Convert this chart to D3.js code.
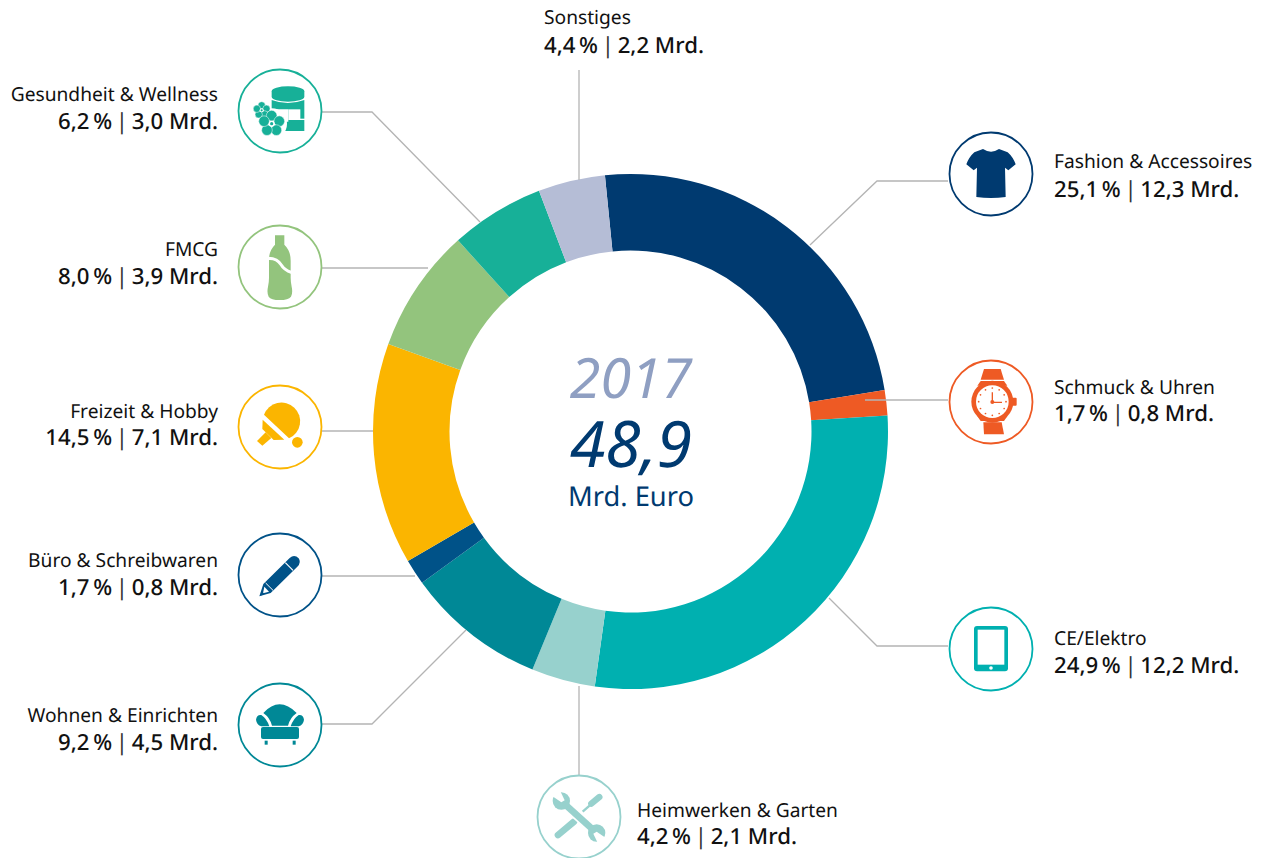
<!DOCTYPE html>
<html><head><meta charset="utf-8">
<script src="https://cdnjs.cloudflare.com/ajax/libs/d3/7.8.5/d3.min.js"></script>
<style>
html,body{margin:0;padding:0;background:#fff;overflow:hidden}
svg{display:block}
text{font-family:"Noto Sans",sans-serif;fill:#111;text-rendering:geometricPrecision}
</style></head><body>
<div id="chart"></div>
<script>
// ---- data ----
const categories = ["Fashion & Accessoires","Schmuck & Uhren","CE/Elektro","Heimwerken & Garten","Wohnen & Einrichten","Büro & Schreibwaren","Freizeit & Hobby","FMCG","Gesundheit & Wellness","Sonstiges"];
const shareLabels = ["25,1","1,7","24,9","4,2","9,2","1,7","14,5","8,0","6,2","4,4"];
const billionLabels = ["12,3","0,8","12,2","2,1","4,5","0,8","7,1","3,9","3,0","2,2"];
// slice sizes as actually drawn in the picture (read from the ring, in % of the circle)
const drawnShares = [24.0,1.6,28.2,4.0,8.8,1.6,13.9,7.8,5.9,4.2];
const colors = ["#003a70","#ee5a24","#00b0b0","#97d1cd","#008896","#005288","#fbb500","#93c47d","#17b098","#b5bdd6"];
const yearLabel = "2017", totalLabel = "48,9", unitLabel = "Mrd. Euro";

// ---- layout ----
const W=1263,H=858,cx=630.5,cy=431.5,R=257.5,r=181;
const startAngle=-5.7*Math.PI/180;
const labelPos=[[1054,168,197,"start"],[1054,394,421,"start"],[1054,645,673,"start"],[637,817,844,"start"],[218,722,750,"end"],[218,567,595,"end"],[218,418,445,"end"],[218,256,284,"end"],[218,101,129,"end"],[544,24,53,"start"]];
const iconPos=[[991,174],[991,402],[991,649],[579,817],[280,725],[280,575],[280,427],[280,267],[280,111],null];
const leaders=[[[948,181],[877,181],[810,245]],[[948,400],[865,400]],[[948,646],[877,646],[829,598]],[[579,775],[579,686]],[[322,724],[372,724],[466,630]],[[322,576],[415,576]],[[322,431],[373,431]],[[322,268],[428,268]],[[322,112],[372,112],[480,222]],[[579,70],[579,180]]];

const svg=d3.select("#chart").append("svg").attr("width",W).attr("height",H);

// ring
const pie=d3.pie().sort(null).value(d=>d).startAngle(startAngle).endAngle(startAngle+2*Math.PI);
const arc=d3.arc().innerRadius(r).outerRadius(R);
svg.append("g").attr("transform",`translate(${cx},${cy})`)
  .selectAll("path").data(pie(drawnShares)).join("path")
  .attr("d",arc).attr("fill",(d,i)=>colors[i]);

// leaders
const line=d3.line();
svg.append("g").selectAll("path").data(leaders).join("path")
  .attr("d",d=>line(d)).attr("fill","none").attr("stroke","#b4b4b4").attr("stroke-width",1.3);

// icon circles
iconPos.forEach((p,i)=>{
  if(!p)return;
  svg.append("circle").attr("cx",p[0]).attr("cy",p[1]).attr("r",41.5).attr("fill","#fff").attr("stroke",colors[i]).attr("stroke-width",1.8);
});

// icons, drawn in a 3x local grid around each circle centre
function icon(i,zx,zy){
  return svg.append("g").attr("transform",`translate(${iconPos[i][0]},${iconPos[i][1]}) scale(${1/3}) translate(${-zx},${-zy})`).attr("fill",colors[i]);
}
// t-shirt
icon(0,184,163).append("path").attr("d","M160,88 Q184,104 208,88 L234,98 Q250,112 258,134 L236,152 L226,144 L228,232 Q184,238 140,232 L142,144 L132,152 L110,134 Q118,112 134,98Z");
// watch
{const g=icon(1,93,111);
 g.append("path").attr("d","M72,12 H122 L132,44 H62Z");
 g.append("path").attr("d","M70,172 H125 L132,208 H72Z");
 g.append("path").attr("d","M62,48 H132 L142,62 H52Z");
 g.append("path").attr("d","M62,168 H132 L142,154 H52Z");
 g.append("rect").attr("x",157).attr("y",98).attr("width",13).attr("height",24).attr("rx",3);
 g.append("circle").attr("cx",97).attr("cy",110).attr("r",63);
 g.append("circle").attr("cx",97).attr("cy",110).attr("r",49).attr("fill","#fff");
 d3.range(12).forEach(k=>{const a=k*Math.PI/6;g.append("circle").attr("cx",97+41*Math.cos(a)).attr("cy",110+41*Math.sin(a)).attr("r",2.6);});
 g.append("path").attr("d","M97,82 V112 H126").attr("fill","none").attr("stroke",colors[1]).attr("stroke-width",4);
 g.append("circle").attr("cx",97).attr("cy",111).attr("r",6);
}
// tablet
{const g=icon(2,184,177);
 g.append("rect").attr("x",133).attr("y",108).attr("width",102).attr("height",136).attr("rx",9);
 g.append("rect").attr("x",144).attr("y",119).attr("width",80).attr("height",105).attr("fill","#fff");
 g.append("circle").attr("cx",184).attr("cy",234).attr("r",5.5).attr("fill","#fff");
}
// tools
{const g=icon(3,87,96),c=colors[3];
 const seg=(d,w,cap)=>g.append("path").attr("d",d).attr("stroke",c).attr("stroke-width",w).attr("stroke-linecap",cap||"butt").attr("fill","none");
 seg("M24,150 L72,110",20,"round");
 seg("M98,80 L130,52",7);
 seg("M124,56 L148,36",19,"round");
 g.append("path").attr("d","M38,52 L136,140").attr("stroke","#fff").attr("stroke-width",30).attr("fill","none");
 seg("M38,52 L136,140",20);
 g.append("circle").attr("cx",34).attr("cy",48).attr("r",26);
 g.append("circle").attr("cx",140).attr("cy",144).attr("r",26);
 g.append("path").attr("d","M2,30 L24,4 L44,46 L34,52 Z").attr("fill","#fff");
 g.append("path").attr("d","M172,162 L150,188 L130,146 L140,140 Z").attr("fill","#fff");
}
// armchair
{const g=icon(4,180,166);
 g.append("path").attr("d","M130,130 Q178,78 230,130 Q210,144 204,168 H156 Q150,144 130,130Z");
 g.append("path").attr("d","M108,150 Q110,134 124,136 Q140,146 148,170 H124 Q110,166 108,150Z");
 g.append("path").attr("d","M252,150 Q250,134 236,136 Q220,146 212,170 H236 Q250,166 252,150Z");
 g.append("rect").attr("x",123).attr("y",172).attr("width",114).attr("height",36).attr("rx",6);
 g.append("rect").attr("x",134).attr("y",213).attr("width",9).attr("height",12);
 g.append("rect").attr("x",218).attr("y",213).attr("width",9).attr("height",12);
}
// pencil
{const g=icon(5,841,613);
 g.append("path").attr("d","M779,677 L791,640 L870,562 Q884,550 897,563 Q906,576 893,588 L813,667Z");
 g.append("path").attr("d","M857,576 L880,599").attr("stroke","#fff").attr("stroke-width",3.5);
 g.append("path").attr("d","M798,637 L820,659").attr("stroke","#fff").attr("stroke-width",3);
 g.append("path").attr("d","M794,648 L808,663 L790,668Z").attr("fill","#fff");
 g.append("path").attr("d","M782,675 L786,662 L794,670Z");
}
// paddle
{const g=icon(6,841,170);
 g.append("path").attr("d","M793,133 A56,56 0 1 1 868,204 Z");
 g.append("path").attr("d","M789,148 L854,208 L822,209 L788,176Z");
 g.append("path").attr("d","M772,212 L798,186 L815,203 L788,226Z");
 g.append("circle").attr("cx",893).attr("cy",216).attr("r",16);
}
// bottle
{const g=icon(7,841,623);
 g.append("path").attr("d","M826,528 H854 V556 Q873,574 873,604 V655 Q873,668 876,682 Q880,700 874,712 Q866,722 840,722 Q814,722 807,712 Q801,700 805,682 Q808,668 808,655 V600 Q808,574 826,556Z");
 g.append("path").attr("d","M806,592 Q836,592 850,616 Q858,628 875,634 L875,644 Q850,636 840,618 Q828,600 806,602Z").attr("fill","#fff");
}
// jar and flowers
{const g=icon(8,105,105);
 g.append("path").attr("d","M80,46 A49,15 0 0 1 178,46 V62 A49,15 0 0 1 80,62Z");
 g.append("path").attr("d","M80,72 Q128,90 178,72 V165 H120 V137 H130 V100 H80Z");
 g.append("rect").attr("x",130).attr("y",100).attr("width",36).attr("height",32).attr("fill","#fff");
 g.append("rect").attr("x",160).attr("y",128).attr("width",20).attr("height",4).attr("fill","#fff");
 const flower=(x,y,pr,d)=>{
  d3.range(5).forEach(k=>{const a=-Math.PI/2+k*2*Math.PI/5;
    g.append("circle").attr("cx",x+d*Math.cos(a)).attr("cy",y+d*Math.sin(a)).attr("r",pr).attr("stroke","#fff").attr("stroke-width",1.5);});
  g.append("circle").attr("cx",x).attr("cy",y).attr("r",pr*.55).attr("fill","#fff");
  g.append("circle").attr("cx",x).attr("cy",y).attr("r",pr*.3);
 };
 g.append("circle").attr("cx",80).attr("cy",143).attr("r",46).attr("fill","#fff");
 flower(50,103,11,15);
 flower(80,143,16,24);
}

// labels
categories.forEach((c,i)=>{
  const [x,y1,y2,a]=labelPos[i];
  svg.append("text").attr("x",x).attr("y",y1).attr("text-anchor",a).attr("font-size",19.2).text(c);
  const t=svg.append("text").attr("x",x).attr("y",y2).attr("text-anchor",a).attr("font-size",22.2).attr("font-weight",500);
  t.append("tspan").text(shareLabels[i]+"\u2009%\u2009");
  t.append("tspan").attr("font-weight",400).style("fill","#333").text("|\u2009");
  t.append("tspan").text(billionLabels[i]+" Mrd.");
});

// centre
svg.append("text").attr("x",631).attr("y",398).attr("text-anchor","middle").attr("font-size",55.5).attr("font-style","italic").style("fill","#8f9fc2").text(yearLabel);
svg.append("text").attr("x",631).attr("y",467).attr("text-anchor","middle").attr("font-size",64).attr("font-style","italic").style("fill","#003a70").text(totalLabel);
svg.append("text").attr("x",631).attr("y",506).attr("text-anchor","middle").attr("font-size",27.3).style("fill","#003a70").text(unitLabel);
</script>
</body></html>
